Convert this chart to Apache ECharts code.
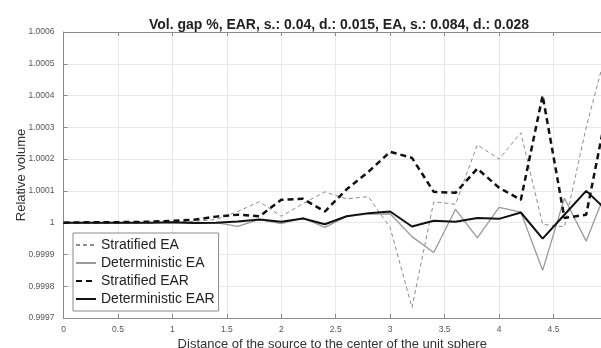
<!DOCTYPE html>
<html><head><meta charset="utf-8">
<script src="https://cdn.jsdelivr.net/npm/echarts@6/dist/echarts.min.js"></script>
<style>html,body{margin:0;padding:0;background:#fff}#c{width:601px;height:348px}</style>
</head><body><div id="c"></div>
<script>
const xs = [0,0.2,0.4,0.6,0.8,1.0,1.2,1.4,1.6,1.8,2.0,2.2,2.4,2.6,2.8,3.0,3.2,3.4,3.6,3.8,4.0,4.2,4.4,4.6,4.8,5.0];
const stratifiedEA = [1,1,1,1,1,1.000002,1.000004,1.00001,1.000035,1.000066,1.00002,1.00006,1.000097,1.000075,1.000082,0.999984,0.999733,1.000066,1.000058,1.000245,1.0002,1.000283,0.999995,0.999987,1.0003,1.00056];
const deterministicEA = [1,1,1,1,1,1,0.999998,1,0.999988,1.00001,0.999997,1.000015,0.999985,1.00002,1.000027,1.000028,0.999956,0.999906,1.000042,0.999952,1.000048,1.000033,0.99985,1.000077,0.999942,1.000115];
const stratifiedEAR = [1,1.000001,1.000001,1.000002,1.000003,1.000006,1.000009,1.000019,1.000025,1.00002,1.000072,1.000075,1.000035,1.000105,1.00016,1.000223,1.000204,1.000097,1.000094,1.00017,1.00011,1.000072,1.0004,1.000015,1.000025,1.00037];
const deterministicEAR = [1,1,1,1,1,1.000001,0.999999,1,1.000004,1.00001,1.000003,1.000013,0.999995,1.00002,1.00003,1.000035,0.999988,1.000006,1.000003,1.000015,1.000012,1.000032,0.99995,1.000025,1.0001,1.000035];
const seriesNames = ['Stratified EA','Deterministic EA','Stratified EAR','Deterministic EAR'];
const titleText = 'Vol. gap %, EAR, s.: 0.04, d.: 0.015, EA, s.: 0.084, d.: 0.028';
const xName = 'Distance of the source to the center of the unit sphere';
const yName = 'Relative volume';
const xMaxVisible = 4.936;

const pair = arr => arr.map((v,i)=>[xs[i], v]);
const FONT = 'Liberation Sans, Arial, sans-serif';
const chart = echarts.init(document.getElementById('c'), null, {renderer:'canvas'});
const axisCol = '#8a8a8a';
const isMult = v => Math.abs(v*2 - Math.round(v*2)) < 1e-6;
chart.setOption({
  backgroundColor:'#fff',
  animation:false,
  title:{text:titleText,left:334,top:13,textAlign:'center',
    textStyle:{fontFamily:FONT,fontSize:14,fontWeight:'bold',color:'#222'}},
  legend:{orient:'vertical',left:73,top:233,padding:[5,4,5,2],itemWidth:20,itemHeight:14,itemGap:4,
    backgroundColor:'#fff',borderColor:'#8a8a8a',borderWidth:1,borderRadius:0,
    itemStyle:{opacity:0},
    textStyle:{fontFamily:FONT,fontSize:14,color:'#222'},data:seriesNames},
  grid:{left:63.5,top:32,bottom:30,right:0,containLabel:false,outerBoundsMode:'none'},
  xAxis:[{type:'value',min:0,max:xMaxVisible,interval:0.5,
    name:xName,nameLocation:'middle',nameGap:20,nameMoveOverlap:false,
    nameTextStyle:{fontFamily:FONT,fontSize:13,color:'#333'},
    axisLine:{show:true,onZero:false,lineStyle:{color:axisCol,width:1}},
    axisTick:{show:true,inside:true,length:4,lineStyle:{color:axisCol}},
    axisLabel:{fontFamily:FONT,fontSize:8.5,color:'#555',margin:7,showMaxLabel:false,
      formatter:v=>isMult(v)?String(+v.toFixed(2)):''},
    splitLine:{show:true,lineStyle:{color:'#e8e8e8',width:1}}},
   {type:'value',min:0,max:xMaxVisible,interval:0.5,position:'top',
    axisLine:{show:true,onZero:false,lineStyle:{color:axisCol,width:1}},
    axisTick:{show:true,inside:true,length:4,lineStyle:{color:axisCol}},
    axisLabel:{show:false},splitLine:{show:false}}],
  yAxis:{type:'value',min:0.9997,max:1.0006,interval:0.0001,
    name:yName,nameLocation:'middle',nameGap:36,nameRotate:90,nameMoveOverlap:false,
    nameTextStyle:{fontFamily:FONT,fontSize:13,color:'#333'},
    axisLine:{show:true,onZero:false,lineStyle:{color:axisCol,width:1}},
    axisTick:{show:true,inside:true,length:4,lineStyle:{color:axisCol}},
    axisLabel:{fontFamily:FONT,fontSize:8.5,color:'#555',margin:9,formatter:v=>String(+v.toFixed(4))},
    splitLine:{show:true,lineStyle:{color:'#e8e8e8',width:1}}},
  series:[
    {name:seriesNames[0],type:'line',data:pair(stratifiedEA),symbol:'none',z:2,
      itemStyle:{color:'#8c8c8c'},lineStyle:{color:'#8c8c8c',width:1,type:[4,3]}},
    {name:seriesNames[1],type:'line',data:pair(deterministicEA),symbol:'none',z:3,
      itemStyle:{color:'#9a9a9a'},lineStyle:{color:'#9a9a9a',width:1.3,type:'solid'}},
    {name:seriesNames[2],type:'line',data:pair(stratifiedEAR),symbol:'none',z:4,
      itemStyle:{color:'#111'},lineStyle:{color:'#111',width:2.5,type:[6,4]}},
    {name:seriesNames[3],type:'line',data:pair(deterministicEAR),symbol:'none',z:5,
      itemStyle:{color:'#111'},lineStyle:{color:'#111',width:2,type:'solid'}}
  ]
});
</script></body></html>
